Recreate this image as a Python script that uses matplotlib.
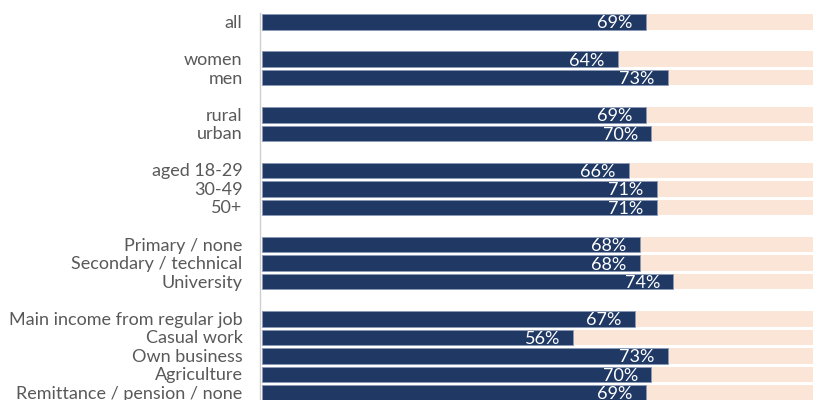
import matplotlib.pyplot as plt

# rows (top to bottom), with empty rows between groups
labels = ["all",
          "women", "men",
          "rural", "urban",
          "aged 18-29", "30-49", "50+",
          "Primary / none", "Secondary / technical", "University",
          "Main income from regular job", "Casual work", "Own business",
          "Agriculture", "Remittance / pension / none"]
rows = [0, 2, 3, 5, 6, 8, 9, 10, 12, 13, 14, 16, 17, 18, 19, 20]
values = [69, 64, 73, 69, 70, 66, 71, 71, 68, 68, 74, 67, 56, 73, 70, 69]

navy = "#203864"
peach = "#FBE5D6"
grey = "#595959"

fig = plt.figure(figsize=(8.13, 4.0), dpi=100)
ax = fig.add_axes([262 / 813, 0, 1 - 262 / 813, 1])

ax.barh(rows, [100] * len(rows), height=0.84, color=peach, edgecolor="none")
ax.barh(rows, values, height=0.84, color=navy, edgecolor="#8a9ab8", linewidth=0.6)

for r, v in zip(rows, values):
    ax.text(v - 2.4, r + 0.08, f"{v}%", ha="right", va="center", color="white",
            fontsize=13, family="Lato")

for r, lab in zip(rows, labels):
    ax.text(-3.5, r + 0.05, lab, ha="right", va="center", color=grey,
            fontsize=13, family="Lato", clip_on=False)

ax.plot([-0.3, -0.3], [-0.5, 21], color="#d0d0d0", lw=1, clip_on=False)

ax.set_xlim(0, 99.1)
ax.set_ylim(20.377, -1.186)
ax.axis("off")

fig.savefig("out.png", dpi=100)
